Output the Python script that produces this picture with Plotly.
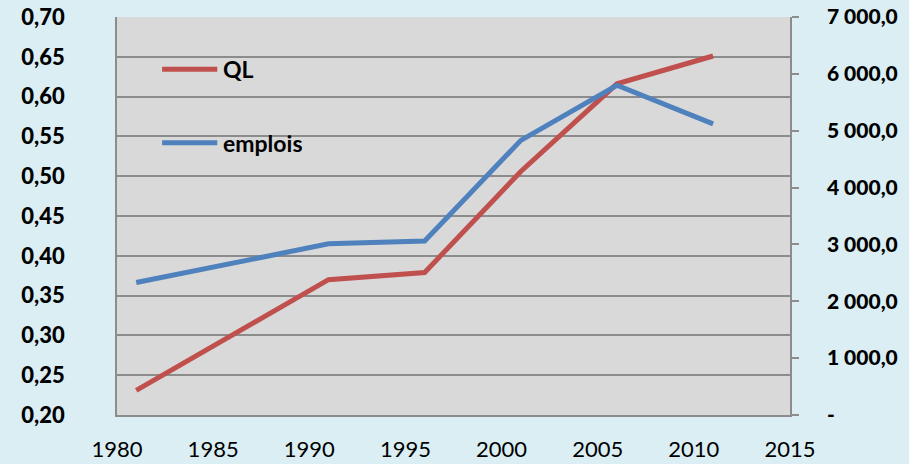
import plotly.graph_objects as go

years = [1981, 1991, 1996, 2001, 2006, 2011]
ql = [0.231, 0.370, 0.379, 0.506, 0.616, 0.651]
emplois = [2330, 3010, 3060, 4830, 5800, 5120]

x_ticks = [1980, 1985, 1990, 1995, 2000, 2005, 2010, 2015]
right_tick_vals = [0, 1000, 2000, 3000, 4000, 5000, 6000, 7000]
right_tick_text = ["-", "1 000,0", "2 000,0", "3 000,0", "4 000,0", "5 000,0", "6 000,0", "7 000,0"]

red = "#C0504D"
blue = "#4F81BD"
grid = "#8C8C8C"
bg = "#DAEEF3"

fig = go.Figure()
fig.add_trace(go.Scatter(x=years, y=ql, name="QL", mode="lines",
                         line=dict(color=red, width=5), yaxis="y"))
fig.add_trace(go.Scatter(x=years, y=emplois, name="emplois", mode="lines",
                         line=dict(color=blue, width=5), yaxis="y2"))

# legend drawn by hand inside the plot area, like the original
for name, color, ypos in [("QL", red, 0.869), ("emplois", blue, 0.684)]:
    fig.add_shape(type="line", xref="paper", yref="paper",
                  x0=0.067, x1=0.149, y0=ypos, y1=ypos,
                  line=dict(color=color, width=5))
    fig.add_annotation(text="<b>%s</b>" % name, xref="paper", yref="paper",
                       x=0.155, y=ypos, xanchor="left", yanchor="middle",
                       showarrow=False, font=dict(size=23, color="black"))

fig.update_layout(
    width=909, height=464,
    margin=dict(l=117, r=119, t=17, b=49),
    paper_bgcolor=bg,
    plot_bgcolor="#D9D9D9",
    separators=", ",
    showlegend=False,
    font=dict(family="Lato", color="black"),
    xaxis=dict(range=[1980, 2015], tickvals=x_ticks, showgrid=False,
               showline=True, linecolor=grid, linewidth=1.5, automargin=False,
               ticks="", tickfont=dict(size=22), ticklabelstandoff=14,
               zeroline=False),
    yaxis=dict(range=[0.2, 0.7], dtick=0.05, tickformat=".2f",
               showgrid=True, gridcolor=grid, gridwidth=1.5,
               showline=True, linecolor=grid, linewidth=1.5, automargin=False,
               ticks="", tickfont=dict(size=22, family="Lato Black"),
               ticklabelstandoff=46, zeroline=False),
    yaxis2=dict(range=[0, 7000], overlaying="y", side="right",
                tickvals=right_tick_vals, ticktext=right_tick_text,
                showgrid=False, showline=True, linecolor=grid, linewidth=1.5,
                ticks="outside", ticklen=7, tickcolor=grid, tickwidth=1.5,
                automargin=False,
                tickfont=dict(size=21, family="Lato Black"),
                ticklabelstandoff=24, zeroline=False),
)

# page body has an 8px default margin; drop it so the chart sits at 0,0
fig.write_html("out.html",
               config={"displayModeBar": False},
               post_script="document.body.style.margin='0';"
                           "document.body.style.background='%s';" % bg)
